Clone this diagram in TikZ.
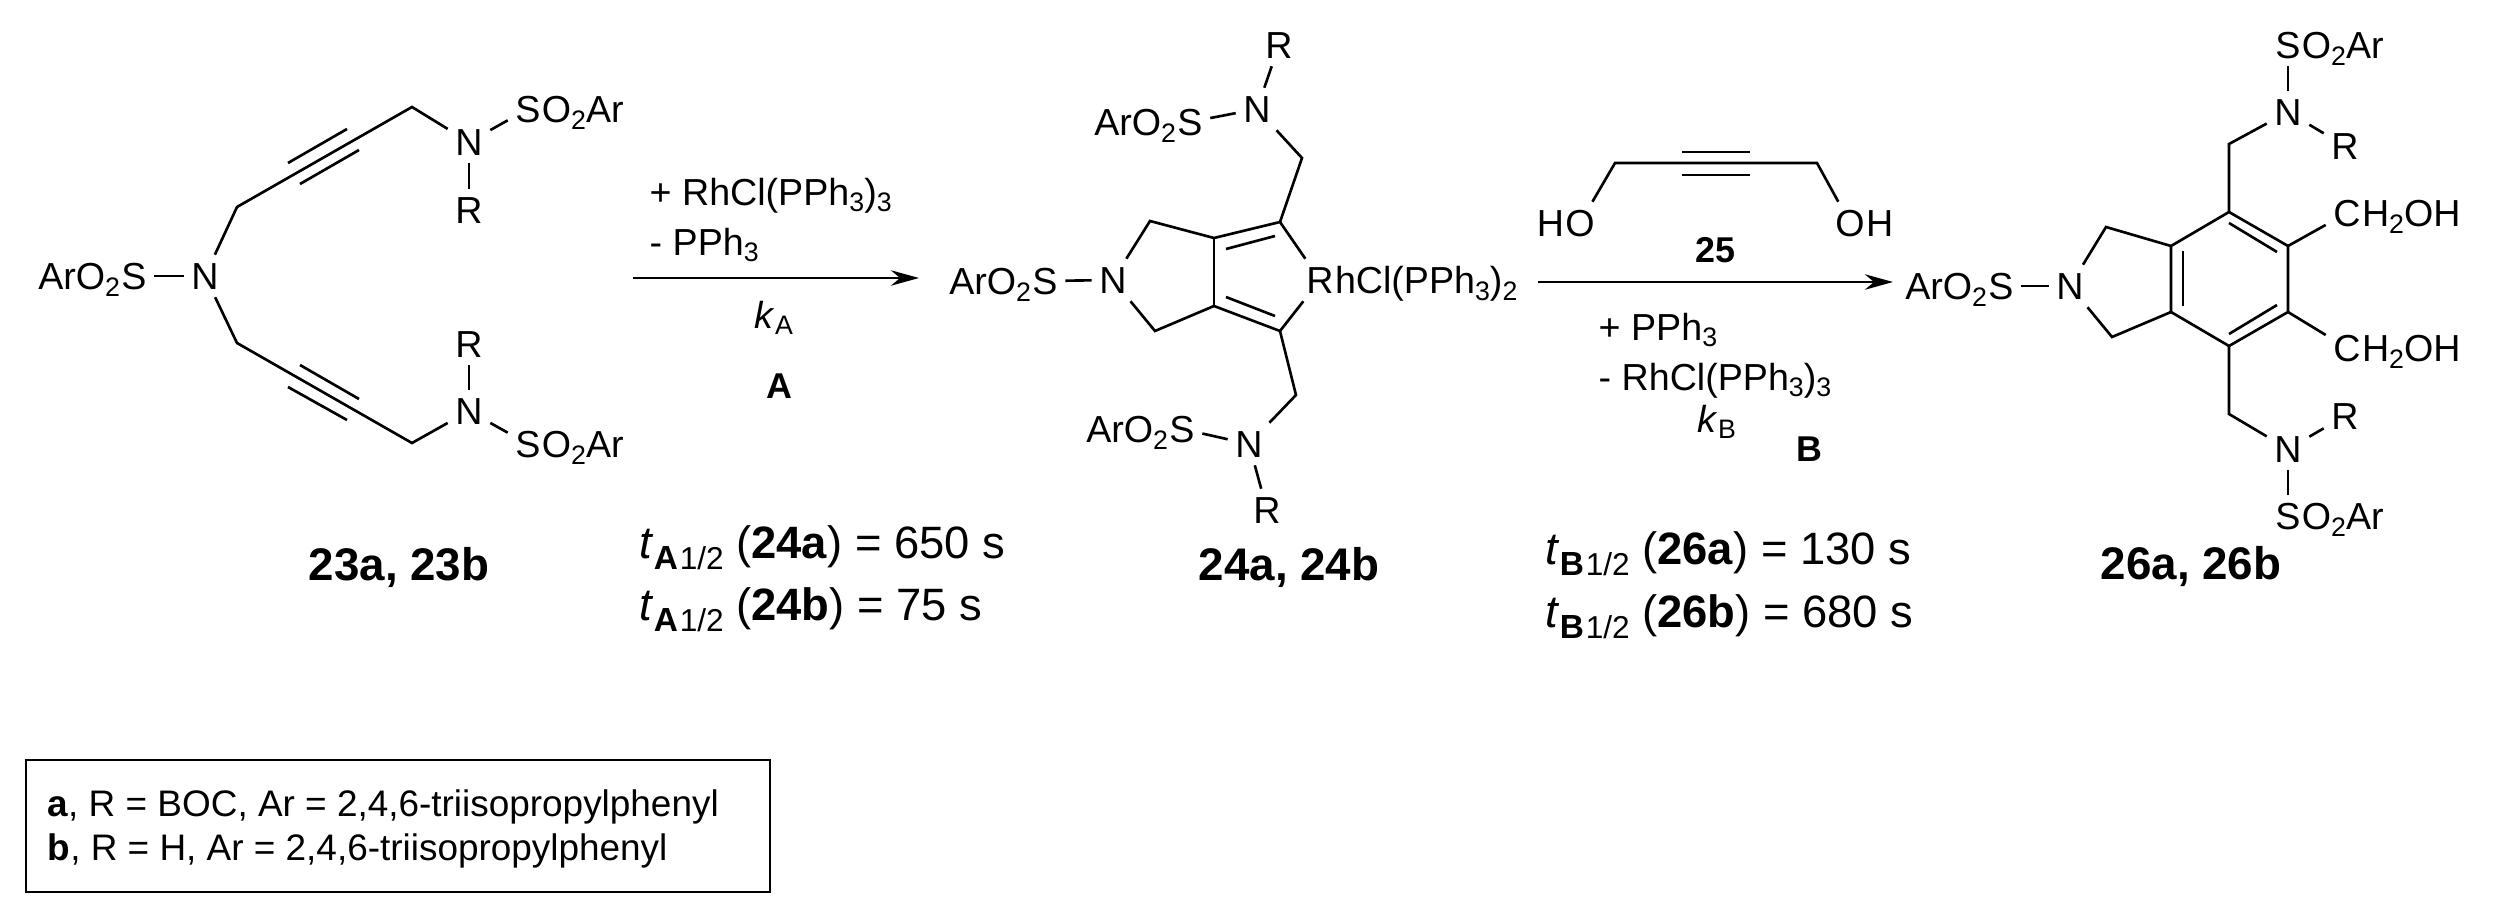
\documentclass[tikz,border=0pt]{standalone}
\usepackage{fontspec}
\setmainfont{Liberation Sans}
\usetikzlibrary{positioning,arrows.meta}
\newcommand{\chemsub}[1]{\raisebox{-.35ex}{\fontsize{7.6}{8}\selectfont #1}}
\newcommand{\halfsub}[1]{\raisebox{-.5ex}{\fontsize{9.5}{10}\selectfont\textbf{#1}\kern.5pt\fontsize{9}{10}\selectfont 1/2}}
\tikzset{
  atom/.style={inner sep=2pt,text height=7.7pt,text depth=0pt,font=\fontsize{10.7}{12}\selectfont},
  tail/.style={inner sep=0pt,text height=7.7pt,text depth=0pt,font=\fontsize{10.7}{12}\selectfont},
  reagent/.style={anchor=base west,inner sep=0pt,font=\fontsize{10.7}{12}\selectfont},
  legendline/.style={anchor=base west,inner sep=0pt,font=\fontsize{10.5}{12}\selectfont},
  compound/.style={anchor=base,inner sep=0pt,font=\fontsize{13}{15}\selectfont\bfseries},
  tag/.style={anchor=base,inner sep=0pt,font=\fontsize{10.2}{12}\selectfont\bfseries},
  halflife/.style={anchor=base west,inner sep=0pt,font=\fontsize{12.9}{15}\selectfont},
  bond/.style={line width=.75pt},
  rxn/.style={-{Stealth[length=8pt,width=4.4pt]}}
}
\begin{document}
\begin{tikzpicture}[x=.01cm,y=-.01cm]
  \useasboundingbox (0,0) rectangle (2499,918);

  % 23
  \node[atom] (n1) at (205,276) {N};
  \node[atom] (s1) at (134,276) {S};
  \node[tail,left=-2pt of s1] {ArO\chemsub{2}};
  \node[atom] (n2) at (469,142) {N};
  \node[atom] (r2) at (469,210) {R};
  \node[atom] (s2) at (528,109) {S};
  \node[tail,right=-2pt of s2] {O\chemsub{2}Ar};
  \node[atom] (n3) at (469,411) {N};
  \node[atom] (r3) at (469,344) {R};
  \node[atom] (s3) at (528,444) {S};
  \node[tail,right=-2pt of s3] {O\chemsub{2}Ar};
  \coordinate (c1) at (237,207);
  \coordinate (c2) at (412,107);
  \coordinate (c3) at (237,343);
  \coordinate (c4) at (412,443);
  \draw[bond] (s1) -- (n1);
  \draw[bond] (n1) -- (c1) -- (c2) -- (n2);
  \draw[bond] (n2) -- (r2);
  \draw[bond] (n2) -- (s2);
  \draw[bond] (n1) -- (c3) -- (c4) -- (n3);
  \draw[bond] (n3) -- (r3);
  \draw[bond] (n3) -- (s3);
  \draw[bond] (288,163) -- (347,129);
  \draw[bond] (300,184) -- (359,150);
  \draw[bond] (300,365) -- (359,399);
  \draw[bond] (288,387) -- (347,420);
  \node[compound] (lab23) at (399,580) {23a, 23b};

  % first arrow
  \coordinate (a1s) at (633,278);
  \coordinate (a1e) at (919,278);
  \draw[rxn,line width=.6pt] (a1s) -- (a1e);
  \node[reagent] (rga) at (649,205) {+ RhCl(PPh\chemsub{3})\chemsub{3}};
  \node[reagent] (rgb) at (649,255) {- PPh\chemsub{3}};
  \node[reagent] (ka) at (754,328) {\textit{k}\chemsub{A}};
  \node[tag] (la) at (779,398) {A};
  \node[halflife] (ta1) at (639,558) {\textit{t}\halfsub{A} (\textbf{24a}) = 650 s};
  \node[halflife] (ta2) at (639,620) {\textit{t}\halfsub{A} (\textbf{24b}) = 75 s};

  % 24
  \node[atom] (n4) at (1113,280) {N};
  \node[atom] (s4) at (1045,281) {S};
  \node[tail,left=-2pt of s4] {ArO\chemsub{2}};
  \node[atom] (rh) at (1320,280) {R};
  \node[tail,right=-2pt of rh] {hCl(PPh\chemsub{3})\chemsub{2}};
  \node[atom] (n5) at (1257,109) {N};
  \node[atom] (r5) at (1279,45) {R};
  \node[atom] (s5) at (1190,122) {S};
  \node[tail,left=-2pt of s5] {ArO\chemsub{2}};
  \node[atom] (n6) at (1249,444) {N};
  \node[atom] (r6) at (1267,510) {R};
  \node[atom] (s6) at (1182,429) {S};
  \node[tail,left=-2pt of s6] {ArO\chemsub{2}};
  \coordinate (d1) at (1150,221);
  \coordinate (d2) at (1214,238);
  \coordinate (d3) at (1280,222);
  \coordinate (d4) at (1155,331);
  \coordinate (d5) at (1214,306);
  \coordinate (d6) at (1280,331);
  \coordinate (d7) at (1302,158);
  \coordinate (d8) at (1296,395);
  \draw[bond] (s4) -- (n4);
  \draw[bond] (n4) -- (d1) -- (d2) -- (d3) -- (rh);
  \draw[bond] (n4) -- (d4) -- (d5) -- (d6) -- (rh);
  \draw[bond] (d2) -- (d5);
  \draw[bond] (d3) -- (d7) -- (n5);
  \draw[bond] (n5) -- (r5);
  \draw[bond] (n5) -- (s5);
  \draw[bond] (d6) -- (d8) -- (n6);
  \draw[bond] (n6) -- (r6);
  \draw[bond] (n6) -- (s6);
  \draw[bond] (1226,249) -- (1275,236);
  \draw[bond] (1226,297) -- (1275,316);
  \node[compound] (lab24) at (1289,580) {24a, 24b};

  % second arrow, 25
  \coordinate (a2s) at (1538,282);
  \coordinate (a2e) at (1893,282);
  \draw[rxn,line width=.75pt] (a2s) -- (a2e);
  \node[atom] (o1) at (1580,223) {O};
  \node[tail,left=-2pt of o1] {H};
  \node[atom] (o2) at (1850,223) {O};
  \node[tail,right=-2pt of o2] {H};
  \coordinate (e1) at (1615,163);
  \coordinate (e2) at (1817,163);
  \draw[bond] (o1) -- (e1) -- (e2) -- (o2);
  \draw[bond] (1682,152) -- (1750,152);
  \draw[bond] (1682,175) -- (1750,175);
  \node[tag] (lab25) at (1715,262) {25};
  \node[reagent] (rgc) at (1598,340) {+ PPh\chemsub{3}};
  \node[reagent] (rgd) at (1598,390) {- RhCl(PPh\chemsub{3})\chemsub{3}};
  \node[reagent] (kb) at (1697,432) {\textit{k}\chemsub{B}};
  \node[tag] (lb) at (1809,461) {B};
  \node[halflife] (tb1) at (1545,564) {\textit{t}\halfsub{B} (\textbf{26a}) = 130 s};
  \node[halflife] (tb2) at (1545,627) {\textit{t}\halfsub{B} (\textbf{26b}) = 680 s};

  % 26
  \node[atom] (n7) at (2070,286) {N};
  \node[atom] (s7) at (2001,286) {S};
  \node[tail,left=-2pt of s7] {ArO\chemsub{2}};
  \node[atom] (n8) at (2288,112) {N};
  \node[atom] (r8) at (2345,146) {R};
  \node[atom] (s8) at (2288,45) {S};
  \node[tail,right=-2pt of s8] {O\chemsub{2}Ar};
  \node[atom] (n9) at (2288,449) {N};
  \node[atom] (r9) at (2345,416) {R};
  \node[atom] (s9) at (2288,516) {S};
  \node[tail,right=-2pt of s9] {O\chemsub{2}Ar};
  \node[atom] (ch1) at (2347,213) {C};
  \node[tail,right=-2pt of ch1] {H\chemsub{2}OH};
  \node[atom] (ch2) at (2347,348) {C};
  \node[tail,right=-2pt of ch2] {H\chemsub{2}OH};
  \coordinate (f1) at (2106,227);
  \coordinate (f2) at (2171,246);
  \coordinate (f3) at (2229,212);
  \coordinate (f4) at (2288,246);
  \coordinate (f5) at (2288,312);
  \coordinate (f6) at (2229,346);
  \coordinate (f7) at (2171,312);
  \coordinate (f8) at (2112,337);
  \coordinate (f9) at (2229,144);
  \coordinate (f10) at (2229,414);
  \draw[bond] (s7) -- (n7);
  \draw[bond] (n7) -- (f1) -- (f2);
  \draw[bond] (n7) -- (f8) -- (f7);
  \draw[bond] (f2) -- (f3) -- (f4) -- (f5) -- (f6) -- (f7) -- cycle;
  \draw[bond] (2183,251) -- (2183,306);
  \draw[bond] (2229,223) -- (2277,252);
  \draw[bond] (2229,334) -- (2277,305);
  \draw[bond] (f3) -- (f9) -- (n8);
  \draw[bond] (n8) -- (s8);
  \draw[bond] (n8) -- (r8);
  \draw[bond] (f4) -- (ch1);
  \draw[bond] (f5) -- (ch2);
  \draw[bond] (f6) -- (f10) -- (n9);
  \draw[bond] (n9) -- (s9);
  \draw[bond] (n9) -- (r9);
  \node[compound] (lab26) at (2191,579) {26a, 26b};

  % legend
  \coordinate (lg1) at (26,760);
  \coordinate (lg2) at (770,892);
  \draw[line width=.8pt] (lg1) rectangle (lg2);
  \node[legendline] (lga) at (47,816) {\textbf{a}, R = BOC, Ar = 2,4,6-triisopropylphenyl};
  \node[legendline] (lgb) at (47,860) {\textbf{b}, R = H, Ar = 2,4,6-triisopropylphenyl};
\end{tikzpicture}
\end{document}
